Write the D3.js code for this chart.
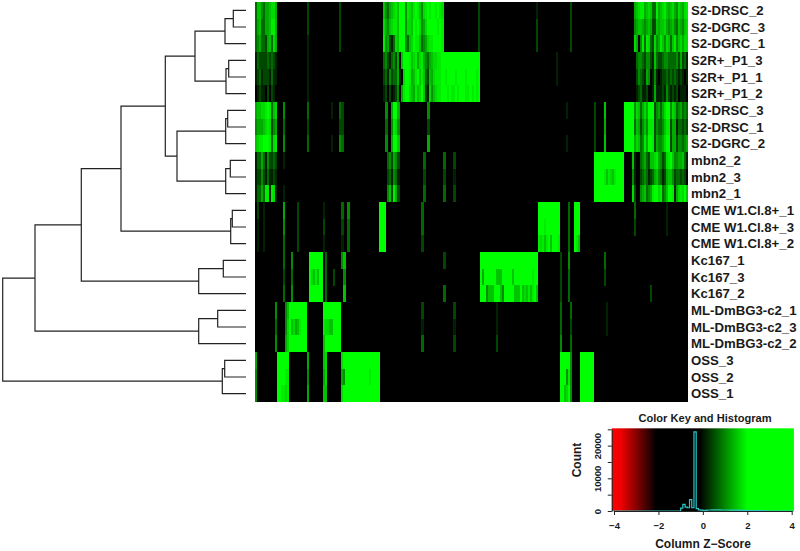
<!DOCTYPE html>
<html>
<head>
<meta charset="utf-8">
<script src="https://cdn.jsdelivr.net/npm/d3@7"></script>
<style>
  html, body { margin: 0; padding: 0; background: #fff; }
  text { font-family: "Liberation Sans", Arial, sans-serif; font-weight: bold; fill: #1a1a1a; }
</style>
</head>
<body>
<svg id="heatmap" width="800" height="551"></svg>
<script>
const rowLabels = [
  'S2-DRSC_2', 'S2-DGRC_3', 'S2-DGRC_1', 'S2R+_P1_3', 'S2R+_P1_1', 'S2R+_P1_2',
  'S2-DRSC_3', 'S2-DRSC_1', 'S2-DGRC_2', 'mbn2_2', 'mbn2_3', 'mbn2_1',
  'CME W1.Cl.8+_1', 'CME W1.Cl.8+_3', 'CME W1.Cl.8+_2', 'Kc167_1', 'Kc167_3', 'Kc167_2',
  'ML-DmBG3-c2_1', 'ML-DmBG3-c2_3', 'ML-DmBG3-c2_2', 'OSS_3', 'OSS_2', 'OSS_1'
];

// z-score for each digit used in heatRuns
const zLevels = [-0.3, 0.15, 0.45, 0.75, 1.05, 1.3, 1.5, 1.7, 1.85, 2.0];

// one list per row: [first column, digits of consecutive columns]; everything else is 0
const heatRuns = [
  [[0, '36643556775'], [26, '2'], [42, '2'], [64, '643567869994876898647898998987'], [111, '2'], [140, '1'], [157, '2'], [189, '567885676338567865675476578']],
  [[0, '35633556885'], [26, '2'], [42, '2'], [64, '754678869994776989745799999898'], [111, '2'], [140, '2'], [157, '2'], [189, '456654565226566754564365467']],
  [[0, '34533256375'], [26, '1'], [42, '2'], [64, '845213769994367988634578899998'], [111, '2'], [140, '2'], [157, '2'], [189, '750483873274586476368467577']],
  [[0, '13222232321'], [26, '1'], [64, '342134250699986785785435677889'], [94, '999999999999999999'], [150, '1'], [189, '034432442163223443333425231']],
  [[0, '12312221311'], [26, '1'], [64, '231423351079985689686326578889'], [94, '989999899998999989'], [150, '1'], [189, '024321540141012232323212101']],
  [[0, '01211020210'], [26, '1'], [64, '120201240589976586796217467889'], [94, '998988989998898989'], [189, '012311200151112142121201110']],
  [[0, '56677898367'], [14, '4'], [26, '3'], [38, '1'], [42, '32'], [65, '4'], [68, '5995'], [86, '4'], [155, '1'], [169, '2'], [174, '6'], [184, '99999'], [189, '476357599924535799476345343']],
  [[0, '45556787245'], [14, '3'], [26, '2'], [42, '22'], [65, '3'], [68, '4874'], [86, '2'], [169, '2'], [174, '5'], [184, '99999'], [189, '365246488824334688255133232']],
  [[0, '67889998378'], [14, '4'], [26, '3'], [38, '1'], [42, '43'], [65, '4'], [68, '5996'], [86, '5'], [155, '1'], [169, '2'], [174, '6'], [184, '99999'], [189, '576348599825445799255244345']],
  [[0, '13353142232'], [14, '1'], [66, '342542'], [84, '3'], [94, '3'], [99, '2'], [169, '999999999999999'], [188, '6'], [189, '100345326678542378964455631']],
  [[0, '12242131121'], [66, '231431'], [84, '2'], [94, '2'], [99, '1'], [169, '999998687689999'], [188, '4'], [189, '100234312356431256642332320']],
  [[0, '13353881871'], [14, '1'], [66, '462852'], [84, '3'], [94, '3'], [99, '2'], [169, '999999999999999'], [188, '7'], [189, '200456345899783469981578796']],
  [[1, '2'], [4, '1'], [14, '5'], [21, '2'], [34, '1'], [43, '3'], [46, '4'], [62, '999'], [83, '3'], [141, '99999999999'], [156, '3'], [159, '999'], [189, '3'], [205, '1']],
  [[1, '1'], [4, '1'], [14, '4'], [21, '2'], [34, '2'], [43, '2'], [46, '3'], [62, '999'], [83, '3'], [141, '99989999999'], [156, '3'], [159, '999'], [189, '2'], [205, '1']],
  [[1, '1'], [4, '1'], [14, '3'], [21, '2'], [34, '1'], [43, '1'], [46, '3'], [62, '999'], [83, '2'], [141, '87868969998'], [156, '3'], [159, '986']],
  [[14, '3'], [18, '4'], [27, '9999999'], [35, '3'], [43, '46'], [94, '2'], [112, '99999999999999999999999999999'], [152, '2'], [156, '4'], [174, '3']],
  [[14, '2'], [18, '3'], [27, '9768699'], [35, '3'], [39, '2'], [44, '4'], [112, '95999999666999996999999999899'], [152, '2'], [156, '3'], [174, '2']],
  [[14, '3'], [18, '4'], [27, '9999999'], [35, '3'], [44, '6'], [94, '3'], [112, '99946669996499999666967686896'], [152, '2'], [156, '3'], [197, '2']],
  [[10, '4'], [15, '46'], [17, '999999999'], [34, '999999999'], [83, '2'], [99, '2'], [120, '1'], [152, '3'], [157, '3'], [175, '1']],
  [[10, '3'], [15, '47'], [17, '967568999'], [34, '877669999'], [83, '1'], [99, '1'], [120, '1'], [152, '3'], [157, '2'], [175, '1']],
  [[10, '4'], [15, '57'], [17, '999999999'], [34, '699999999'], [83, '3'], [99, '2'], [120, '2'], [152, '4'], [157, '3']],
  [[0, '5'], [11, '999999'], [26, '5'], [34, '67'], [43, '7999999999999999999'], [152, '999994'], [162, '9999999']],
  [[0, '4'], [11, '999988'], [26, '4'], [34, '57'], [43, '5499999999999989999'], [152, '999484'], [162, '9999999']],
  [[0, '4'], [11, '998878'], [26, '5'], [34, '66'], [43, '7999999999999999999'], [152, '996794'], [162, '9999999']]
];

// hclust style merges: negative = leaf (1-based row), positive = earlier merge
const mergeLeft = [-1, 1, -4, 3, 2, -7, 6, -10, 8, 7, 5, -13, 12, 11, -16, 15, 14, -19, 18, 17, -22, 21, 20];
const mergeRight = [-2, -3, -5, -6, 4, -8, -9, -11, -12, 9, 10, -14, -15, 13, -17, -18, 16, -20, -21, 19, -23, -24, 22];
const mergeHeight = [12.7, 21, 17.3, 20, 51, 18.3, 20.3, 15.7, 20.3, 69, 80.7, 13.7, 15.3, 125, 22.7, 47.3, 164.7, 28.3, 47.3, 211, 21.3, 23.7, 243.3];

// histogram bins, 0.1 wide near the peak
const histStart = [-1.0, -0.9, -0.8, -0.7, -0.6, -0.5, -0.4, -0.3, -0.2, -0.1, 0, 0.2, 0.4, 0.6, 0.8, 1.0, 1.2, 1.4, 1.6, 1.8, 2.0, 2.2, 2.4, 2.6, 2.8];
const histCounts = [900, 2000, 1200, 1000, 3500, 1000, 24200, 700, 350, 250, 200, 300, 350, 350, 300, 300, 250, 250, 200, 200, 150, 150, 150, 120, 0];

const keyStops = [-4.1, -3.7, -2.1, -0.15, 2, 4.1];
const keyColors = ['#ff0000', '#f00000', '#000000', '#000000', '#00ff00', '#00ff00'];
const keyTicks = [-4, -2, 0, 2, 4];
const countTicks = [0, 5000, 10000, 15000, 20000, 25000];
const countLabels = [0, 10000, 20000];

const svg = d3.select('#heatmap');
const columnCount = 216;

const colorScale = d3.scaleLinear().domain(keyStops).range(keyColors).clamp(true);

const xCol = d3.scaleBand().domain(d3.range(columnCount)).range([255, 688]);
const yRow = d3.scaleBand().domain(rowLabels).range([2, 402]);

const defs = svg.append('defs');

// the reference is a soft jpeg, take the hard edge off the columns
defs.append('filter')
  .attr('id', 'soften')
  .append('feGaussianBlur')
  .attr('stdDeviation', '0.5 0.3');

// Heatmap
svg.append('rect')
  .attr('x', 255)
  .attr('y', 2)
  .attr('width', 433)
  .attr('height', 400)
  .attr('fill', colorScale(zLevels[0]));

const cells = heatRuns.flatMap((runs, r) =>
  runs.flatMap(([start, digits]) =>
    Array.from(digits, (c, i) => ({ row: rowLabels[r], col: start + i, z: zLevels[+c] }))));

svg.append('g')
  .attr('shape-rendering', 'crispEdges')
  .attr('filter', 'url(#soften)')
  .selectAll('rect')
  .data(cells)
  .join('rect')
  .attr('x', d => xCol(d.col))
  .attr('y', d => yRow(d.row))
  .attr('width', xCol.bandwidth() + 0.3)
  .attr('height', yRow.bandwidth() + 0.3)
  .attr('fill', d => colorScale(d.z));

svg.append('g')
  .selectAll('text')
  .data(rowLabels)
  .join('text')
  .attr('x', 691)
  .attr('y', d => yRow(d) + yRow.bandwidth() / 2)
  .attr('dy', '0.35em')
  .attr('font-size', 13.2)
  .text(d => d);

// Row dendrogram
const xTree = d3.scaleLinear().domain([0, 243.3]).range([246, 2.7]);
const nodes = [];
const childNode = id => id < 0
  ? { h: 0, y: yRow(rowLabels[-id - 1]) + yRow.bandwidth() / 2 }
  : nodes[id - 1];
const treePath = d3.path();

mergeHeight.forEach((h, i) => {
  const a = childNode(mergeLeft[i]);
  const b = childNode(mergeRight[i]);
  treePath.moveTo(xTree(a.h), a.y);
  treePath.lineTo(xTree(h), a.y);
  treePath.lineTo(xTree(h), b.y);
  treePath.lineTo(xTree(b.h), b.y);
  nodes.push({ h, y: (a.y + b.y) / 2 });
});

svg.append('path')
  .attr('d', treePath.toString())
  .attr('fill', 'none')
  .attr('stroke', '#222')
  .attr('stroke-width', 1.2);

// Color key and histogram
const xKey = d3.scaleLinear().domain([-4, 4]).range([614, 791.7]);
const yKey = d3.scaleLinear().domain([0, 25000]).range([511, 429.3]);

const gradient = defs.append('linearGradient')
  .attr('id', 'keyGradient');
gradient.selectAll('stop')
  .data(keyStops)
  .join('stop')
  .attr('offset', d => (d - keyStops[0]) / (keyStops[5] - keyStops[0]))
  .attr('stop-color', (d, i) => keyColors[i]);

svg.append('rect')
  .attr('x', xKey(-4.1))
  .attr('y', yKey(25300))
  .attr('width', xKey(4.1) - xKey(-4.1))
  .attr('height', yKey(0) - yKey(25300))
  .attr('fill', 'url(#keyGradient)');

const histPoints = [[-4.1, 0], [histStart[0], 0]]
  .concat(histStart.map((s, i) => [s, histCounts[i]]))
  .concat([[4.1, 0]]);

svg.append('path')
  .attr('d', d3.line()
    .x(d => xKey(d[0]))
    .y(d => yKey(d[1]))
    .curve(d3.curveStepAfter)(histPoints))
  .attr('fill', 'none')
  .attr('stroke', '#2cc6c6')
  .attr('stroke-width', 1.2);

const keyAxis = svg.append('g')
  .attr('transform', `translate(0, ${yKey(0)})`)
  .call(d3.axisBottom(xKey).tickValues(keyTicks).tickSize(4).tickPadding(7).tickSizeOuter(0));

const countAxis = svg.append('g')
  .attr('transform', `translate(${xKey(-4.1)}, 0)`)
  .call(d3.axisLeft(yKey)
    .tickValues(countTicks)
    .tickSize(4)
    .tickSizeOuter(0)
    .tickFormat(d => countLabels.includes(d) ? d : ''));

countAxis.selectAll('.tick text')
  .attr('transform', 'rotate(-90)')
  .attr('x', 0)
  .attr('y', -11)
  .attr('dy', 0)
  .attr('text-anchor', 'middle');

[keyAxis, countAxis].forEach(axis => {
  axis.attr('font-size', 9.5).attr('font-family', null);
  axis.selectAll('path, line').attr('stroke', '#222').attr('stroke-width', 1);
});

svg.append('text')
  .attr('x', 705)
  .attr('y', 422)
  .attr('text-anchor', 'middle')
  .attr('font-size', 11.1)
  .text('Color Key and Histogram');

svg.append('text')
  .attr('x', 703)
  .attr('y', 548)
  .attr('text-anchor', 'middle')
  .attr('font-size', 12)
  .text('Column Z\u2212Score');

svg.append('text')
  .attr('transform', 'translate(581, 460) rotate(-90)')
  .attr('text-anchor', 'middle')
  .attr('font-size', 12)
  .text('Count');
</script>
</body>
</html>
